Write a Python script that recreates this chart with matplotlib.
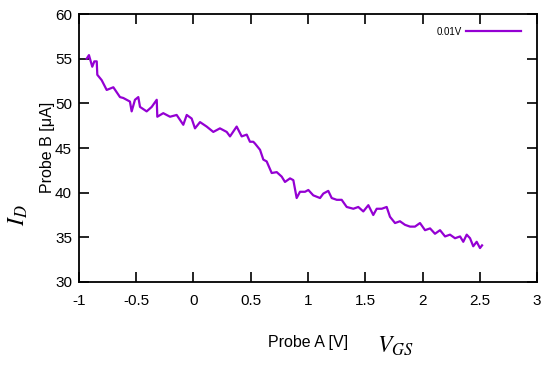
import matplotlib.pyplot as plt

plt.rcParams['font.family'] = ['Liberation Sans', 'DejaVu Sans']
plt.rcParams['mathtext.fontset'] = 'stix'

# valores (V_GS [V], I_D [uA])
vgs = [-0.933, -0.913, -0.884, -0.866, -0.845, -0.840, -0.802, -0.758, -0.700, -0.642,
       -0.613, -0.555, -0.540, -0.511, -0.482, -0.467, -0.409, -0.365, -0.321, -0.316,
       -0.264, -0.205, -0.147, -0.089, -0.059, -0.016, 0.013, 0.057, 0.115, 0.173,
       0.231, 0.290, 0.319, 0.377, 0.421, 0.465, 0.493, 0.522, 0.537, 0.581,
       0.610, 0.639, 0.683, 0.727, 0.770, 0.799, 0.843, 0.872, 0.901, 0.930,
       0.974, 1.003, 1.046, 1.105, 1.134, 1.177, 1.207, 1.251, 1.294, 1.338,
       1.396, 1.439, 1.483, 1.527, 1.570, 1.600, 1.644, 1.687, 1.716, 1.760,
       1.803, 1.847, 1.891, 1.934, 1.978, 2.022, 2.066, 2.109, 2.153, 2.197,
       2.240, 2.284, 2.328, 2.356, 2.386, 2.415, 2.443, 2.473, 2.502, 2.520]
i_d = [55.0, 55.4, 54.1, 54.7, 54.7, 53.2, 52.6, 51.5, 51.8, 50.7,
       50.6, 50.2, 49.1, 50.4, 50.7, 49.6, 49.1, 49.6, 50.4, 48.5,
       48.9, 48.5, 48.7, 47.6, 48.7, 48.3, 47.2, 47.9, 47.4, 46.8,
       47.2, 46.8, 46.3, 47.4, 46.3, 46.5, 45.7, 45.7, 45.5, 44.8,
       43.7, 43.5, 42.2, 42.3, 41.8, 41.2, 41.6, 41.4, 39.4, 40.1,
       40.1, 40.3, 39.7, 39.4, 39.9, 40.2, 39.4, 39.2, 39.2, 38.4,
       38.2, 38.4, 37.9, 38.6, 37.5, 38.2, 38.2, 38.4, 37.3, 36.6,
       36.8, 36.4, 36.2, 36.2, 36.6, 35.8, 36.0, 35.4, 35.8, 35.1,
       35.3, 34.9, 35.1, 34.5, 35.3, 34.9, 34.0, 34.5, 33.8, 34.1]

xticks = [-1, -0.5, 0, 0.5, 1, 1.5, 2, 2.5, 3]
yticks = [30, 35, 40, 45, 50, 55, 60]

fig = plt.figure(figsize=(5.5, 3.65), dpi=100)
ax = fig.add_axes([0.1436, 0.2274, 0.8328, 0.7342])

ax.plot(vgs, i_d, color='#9400d3', lw=1.6, label='0.01V')

ax.set_xlim(-1, 3)
ax.set_ylim(30, 60)
ax.set_xticks(xticks)
ax.set_xticklabels(['-1', '-0.5', '0', '0.5', '1', '1.5', '2', '2.5', '3'])
ax.set_yticks(yticks)
ax.tick_params(direction='in', length=7, width=1.2, top=True, right=True,
               labelsize=11)
ax.tick_params(axis='x', pad=9)
ax.tick_params(axis='y', pad=5)
for s in ax.spines.values():
    s.set_linewidth(1.3)

leg = ax.legend(loc='upper right', fontsize=7, frameon=False, markerfirst=False,
                handlelength=5.6, handletextpad=0.5, bbox_to_anchor=(0.984, 0.985))

# etiquetas de ejes
fig.text(0.56, 0.063, 'Probe A [V]', fontsize=11.5, ha='center', va='center')
fig.text(0.718, 0.05, r'$V_{GS}$', fontsize=17, ha='center', va='center')
fig.text(0.087, 0.595, 'Probe B [μA]', fontsize=11.5, rotation=90, ha='center', va='center')
fig.text(0.033, 0.41, r'$I_D$', fontsize=17, rotation=90, ha='center', va='center')

fig.savefig('out.png', dpi=100)
